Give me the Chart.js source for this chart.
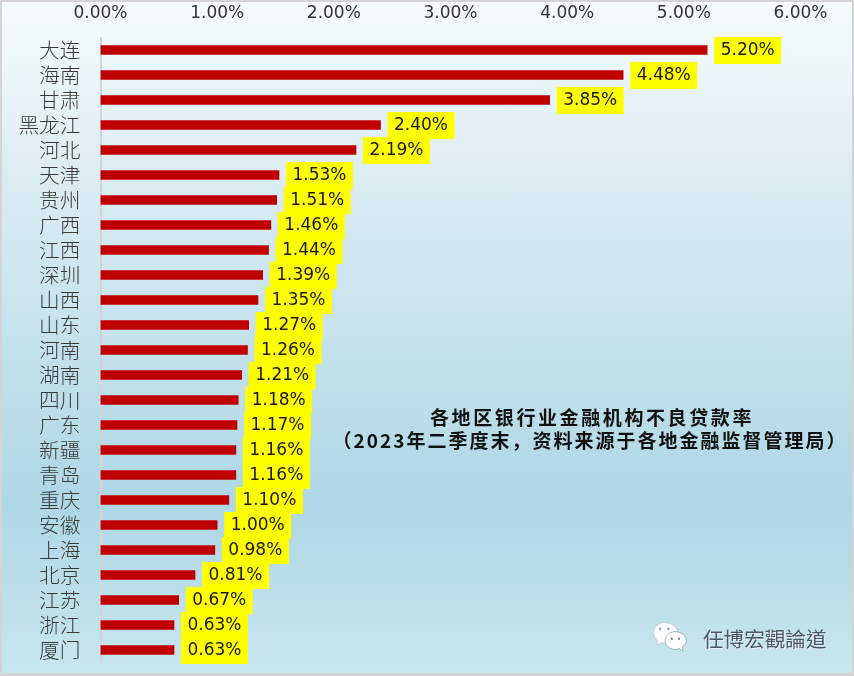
<!DOCTYPE html>
<html><head><meta charset="utf-8">
<script src="https://cdn.jsdelivr.net/npm/chart.js@4/dist/chart.umd.min.js"></script>
<style>
html,body{margin:0;padding:0;width:854px;height:676px;overflow:hidden;background:#d4d4d4}
#bg{position:absolute;left:2px;top:2px;width:850px;height:671px;background:linear-gradient(180deg,#f6fbfd 0%,#dcedf3 25%,#aed7e5 75%,#c8e6ef 100%)}
#c{position:absolute;left:0;top:0}
.note{position:absolute;width:534px;text-align:center;font:bold 19px "Noto Sans CJK SC";color:#111;white-space:nowrap;line-height:24px}
#wm{position:absolute;left:703px;top:624px;font:20.6px "Noto Sans CJK TC";color:#4a5a62;white-space:nowrap;line-height:28px;text-shadow:1px 1px 0 #eef}
#ic{position:absolute;left:652px;top:621px}
</style></head><body>
<div id="bg"></div>
<canvas id="c" width="854" height="676"></canvas>
<div class="note" style="top:405px;left:325px;letter-spacing:2.6px">各地区银行业金融机构不良贷款率</div>
<div class="note" style="top:428px;left:323px;letter-spacing:2px">（2023年二季度末，资料来源于各地金融监督管理局）</div>
<svg id="ic" width="36" height="32" viewBox="0 0 44 36" preserveAspectRatio="none">
<path d="M15 2C8 2 2 7 2 13c0 4 2 7 5 9l-1 5 6-3c2 1 5 1 7 0-2-8 5-13 13-12C30 6 23 2 15 2z" fill="#fff" stroke="#9ab" stroke-width=".5"/>
<path d="M28 12c-7 0-12 5-12 10s5 10 12 10c2 0 3 0 5-1l5 3-1-5c3-2 5-4 5-7 0-5-6-10-14-10z" fill="#fff" stroke="#789" stroke-width=".7"/>
<circle cx="10" cy="9" r="1.6" fill="#9ab"/><circle cx="20" cy="9" r="1.6" fill="#9ab"/>
<circle cx="24" cy="20" r="1.4" fill="#789"/><circle cx="33" cy="20" r="1.4" fill="#789"/>
</svg>
<div id="wm">任博宏觀論道</div>
<script>
const categories=["大连","海南","甘肃","黑龙江","河北","天津","贵州","广西","江西","深圳","山西","山东","河南","湖南","四川","广东","新疆","青岛","重庆","安徽","上海","北京","江苏","浙江","厦门"];
const nplRates=[5.20,4.48,3.85,2.40,2.19,1.53,1.51,1.46,1.44,1.39,1.35,1.27,1.26,1.21,1.18,1.17,1.16,1.16,1.10,1.00,0.98,0.81,0.67,0.63,0.63];
const axisMin=0, axisMax=6, axisStep=1;
const yellowLabels={id:'yellowLabels',afterDatasetsDraw(chart){
  const ctx=chart.ctx,meta=chart.getDatasetMeta(0);
  ctx.save();ctx.font='17px "DejaVu Sans"';ctx.textAlign='center';ctx.textBaseline='middle';
  meta.data.forEach((b,i)=>{
    ctx.fillStyle='#ffff00';ctx.fillRect(b.x+7,b.y-13,67,27);
  });
  meta.data.forEach((b,i)=>{
    ctx.fillStyle='#1a1a1a';ctx.fillText(nplRates[i].toFixed(2)+'%',b.x+7+33.5,b.y+1);
  });
  ctx.restore();
}};
new Chart(document.getElementById('c'),{
  type:'bar',
  data:{labels:categories,datasets:[{data:nplRates,backgroundColor:'#c00000',barThickness:9,borderWidth:0}]},
  plugins:[yellowLabels],
  options:{
    indexAxis:'y',responsive:false,animation:false,devicePixelRatio:1,
    layout:{padding:{left:0,right:53.5,top:0,bottom:13.5}},
    plugins:{legend:{display:false},tooltip:{enabled:false},title:{display:false}},
    scales:{
      x:{position:'top',min:axisMin,max:axisMax,
        afterFit(s){s.height=37.5;s.paddingLeft=0;s.paddingRight=0},
        grid:{display:false,drawTicks:false},border:{display:false},
        ticks:{stepSize:axisStep,padding:14,maxRotation:0,color:'#333',font:{family:'"DejaVu Sans"',size:17},callback:v=>Number(v).toFixed(2)+'%'}},
      y:{afterFit(s){s.width=100.5;s.paddingTop=0;s.paddingBottom=0},
        grid:{display:false,drawTicks:false},border:{display:true,color:'#d4d4d4',width:2},
        ticks:{padding:20,autoSkip:false,color:'#3a3a3a',font:{family:'"Noto Sans CJK SC"',size:20.7,weight:'300'}}}
    }
  }
});
</script>
</body></html>
